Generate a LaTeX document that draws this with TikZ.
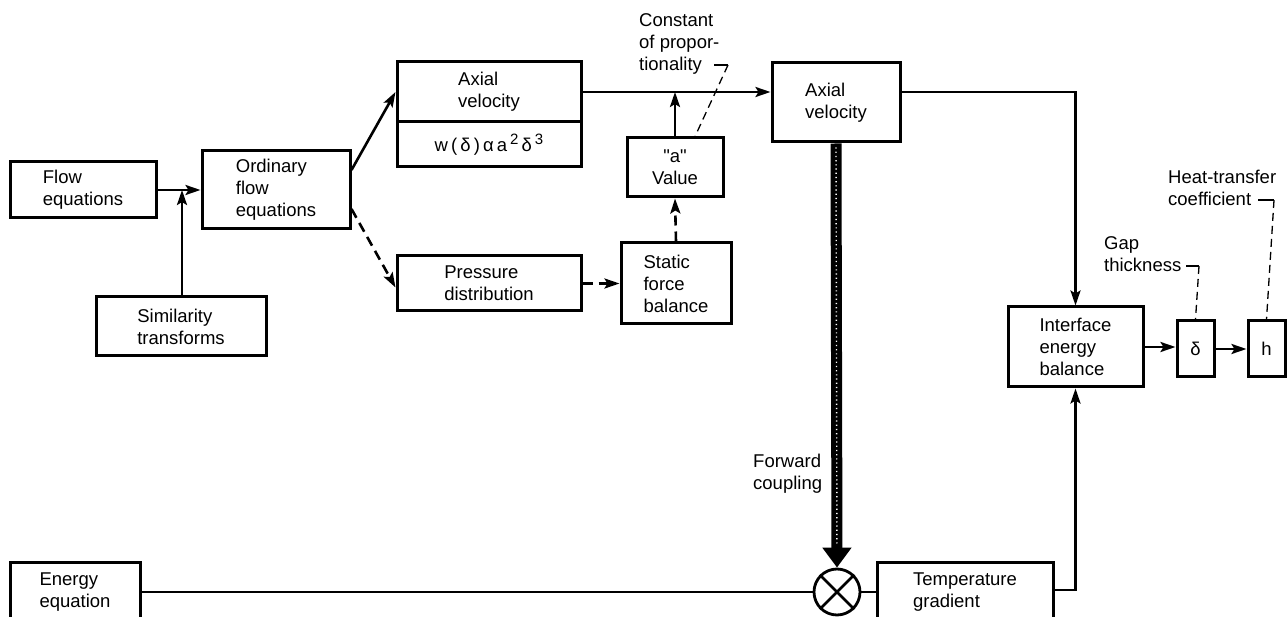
\documentclass[tikz,border=0pt]{standalone}
\usepackage{fontspec}
\setmainfont{Liberation Sans}
\newfontfamily\plainqfont{Liberation Sans}
\usetikzlibrary{arrows.meta,calc}
\tikzset{
  txt/.style={font=\fontsize{18.5}{22}\selectfont},
  box/.style={draw, line width=3pt, rectangle, inner sep=0pt, align=left, txt},
  conn/.style={line width=2.6pt, -{Stealth[length=15pt,width=10pt,inset=3pt]}},
  dconn/.style={conn, dash pattern=on 10pt off 6pt},
  plainline/.style={line width=2.6pt},
  thinline/.style={line width=1.8pt},
  lbl/.style={inner sep=0pt, anchor=north west, align=left, txt},
  leader/.style={line width=1.3pt, dash pattern=on 8pt off 5pt},
  tick/.style={line width=1.3pt},
  fwd/.style={line width=11pt, -{Triangle[length=20pt,width=28pt]},
    postaction={draw=white, line width=1.4pt, dash pattern=on 1.2pt off 3pt, -, shorten >=24pt, shorten <=4pt}},
}
\begin{document}
\begin{tikzpicture}[x=1pt,y=-1pt]
\useasboundingbox (0,0) rectangle (1288,617);
\clip (0,0) rectangle (1288,617);

% boxes
\node[box, minimum width=146pt, minimum height=56pt] (flow) at (83,190) {Flow\\equations};
\node[box, minimum width=148pt, minimum height=78pt] (ord) at (276,190) {Ordinary\\flow\\equations};
\node[box, minimum width=170pt, minimum height=59pt] (sim) at (181,326.5) {Similarity\\transforms};
\node[box, minimum width=184pt, minimum height=60pt] (av1) at (489,92) {Axial\\velocity};
\node[box, minimum width=184pt, minimum height=45pt] (form) at (489,144.5)
  {w\,(\,δ\,)\,α\,a\,\raisebox{7pt}{\fontsize{15}{15}\selectfont 2}\,δ\,\raisebox{7pt}{\fontsize{15}{15}\selectfont 3}};
\node[box, minimum width=184pt, minimum height=55pt] (press) at (489,283.5) {Pressure\\distribution};
\node[box, align=center, minimum width=96pt, minimum height=59pt] (aval) at (675,167.5) {{\plainqfont "a"}\\Value};
\node[box, minimum width=110pt, minimum height=81pt] (stat) at (676,283.5) {Static\\force\\balance};
\node[box, minimum width=128pt, minimum height=79pt] (av2) at (836,102.5) {Axial\\velocity};
\node[box, minimum width=135pt, minimum height=80pt] (iface) at (1075.5,347) {Interface\\energy\\balance};
\node[box, align=center, minimum width=37pt, minimum height=56pt] (delta) at (1195.5,349) {δ};
\node[box, align=center, minimum width=37pt, minimum height=56pt] (h) at (1266.5,349) {h};
\node[box, minimum width=130pt, minimum height=60pt] (energy) at (75,592) {Energy\\equation};
\node[box, minimum width=176pt, minimum height=60pt] (temp) at (965,592) {Temperature\\gradient};
\node[draw, circle, line width=2.8pt, minimum size=46pt, inner sep=0pt] (mult) at (837,592) {};
\draw[line width=2.8pt] (mult.north west) -- (mult.south east) (mult.north east) -- (mult.south west);

% labels
\node[lbl] (constlbl) at (639,13) {Constant\\of propor-\\tionality};
\node[lbl] (gaplbl) at (1104,236) {Gap\\thickness};
\node[lbl] (heatlbl) at (1168,170) {Heat-transfer\\coefficient};
\node[lbl] (fwdlbl) at (753,454) {Forward\\coupling};

% connectors
\coordinate (j1) at (182,190);
\draw[conn] (flow.east) -- (ord.west);
\draw[conn] (sim.north -| j1) -- (j1);
\draw[conn] ([yshift=20pt]ord.east) -- (av1.west);
\draw[dconn] ([yshift=-19pt]ord.east) -- ([yshift=-4pt]press.west);
\draw[conn] (av1.east) -- (av1.east -| av2.west);
\draw[conn] (aval.north) -- (aval.north |- av1.east);
\draw[dconn] (press.east) -- (stat.west);
\draw[dconn] (stat.north) -- (aval.south);
\draw[conn] (av2.east |- av1.east) -- (iface.north |- av1.east) -- (iface.north);
\draw[fwd] (av2.south) -- (mult.north);
\draw[thinline] (energy.east) -- (mult.west);
\draw[plainline] (mult.east) -- (temp.west);
\draw[conn] ([yshift=2pt]temp.east) -- ([yshift=2pt]iface.south |- temp.east) -- (iface.south);
\draw[conn] (iface.east) -- (iface.east -| delta.west);
\draw[conn] (delta.east) -- (h.west);

% leaders
\coordinate (c0) at (714,65);
\coordinate (c1) at (728,65);
\draw[tick] (c0) -- (c1);
\draw[leader] (c1) -- ([xshift=20pt]aval.north);
\coordinate (g0) at (1186,266);
\coordinate (g1) at (1199,266);
\draw[tick] (g0) -- (g1);
\draw[leader] (g1) -- (delta.north);
\coordinate (h0) at (1258,200);
\coordinate (h1) at (1274,200);
\draw[tick] (h0) -- (h1);
\draw[leader] (h1) -- (h.north);
\end{tikzpicture}
\end{document}
